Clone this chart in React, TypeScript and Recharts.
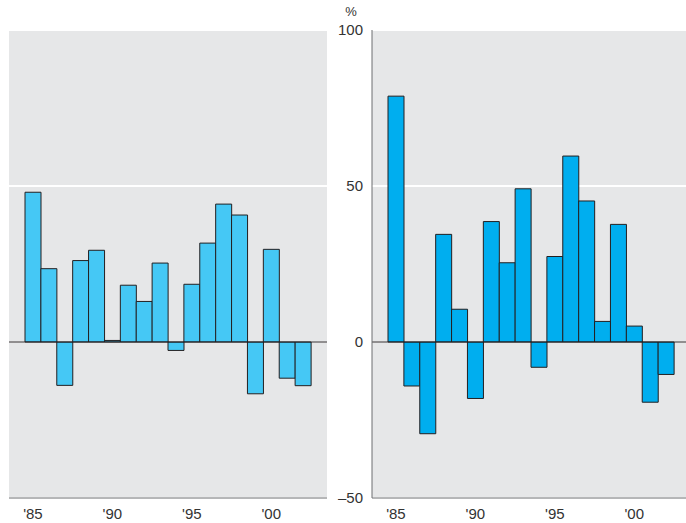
import React from 'react';
import {
  BarChart,
  Bar,
  XAxis,
  YAxis,
  CartesianGrid,
  ReferenceLine,
} from 'recharts';

// years shown on both panels
const years = [1985, 1986, 1987, 1988, 1989, 1990, 1991, 1992, 1993, 1994, 1995, 1996, 1997, 1998, 1999, 2000, 2001, 2002];

// values, in %
const leftValues = [48, 23.5, -13.9, 26.1, 29.4, 0.5, 18.2, 13, 25.3, -2.7, 18.5, 31.7, 44.2, 40.7, -16.6, 29.7, -11.6, -14];
const rightValues = [78.8, -14.1, -29.4, 34.5, 10.5, -18.1, 38.6, 25.4, 49.1, -8.1, 27.4, 59.6, 45.2, 6.6, 37.7, 5.1, -19.3, -10.4];

const yTicks = [-50, 0, 50, 100];
const labeledYears = [1985, 1990, 1995, 2000];

const FONT = '"Liberation Sans", Arial, sans-serif';
const TEXT = '#333333';
const BORDER = '#6d6e71';
const PANEL = '#e6e7e8';

const leftData = years.map((year, i) => ({ year, value: leftValues[i] }));
const rightData = years.map((year, i) => ({ year, value: rightValues[i] }));

const yearLabel = (y: number) =>
  labeledYears.includes(y) ? `'${String(y).slice(2)}` : '';

const yLabel = (v: number) => (v < 0 ? `\u2013${Math.abs(v)}` : String(v));

const App: React.FC = () => {
  return (
    <div
      style={{
        position: 'absolute',
        left: 0,
        top: 0,
        width: 686,
        height: 523,
        background: '#fff',
        fontFamily: FONT,
        overflow: 'hidden',
      }}
    >
      {/* left panel */}
      <div style={{ position: 'absolute', left: 0, top: 0 }}>
        <BarChart
          width={340}
          height={523}
          data={leftData}
          margin={{ top: 30, right: 13, left: 9, bottom: 0 }}
          barCategoryGap={0}
        >
          <CartesianGrid
            xAxisId="b"
            yAxisId="l"
            vertical={false}
            stroke="#ffffff"
            strokeWidth={2}
            fill={PANEL}
          />
          <XAxis
            xAxisId="b"
            dataKey="year"
            interval={0}
            height={25}
            padding={{ left: 16, right: 16 }}
            tickFormatter={yearLabel}
            tickLine={false}
            tickSize={10}
            tickMargin={0}
            axisLine={{ stroke: BORDER }}
            tick={{ fontSize: 15, fill: TEXT, fontFamily: FONT }}
          />
          <XAxis xAxisId="t" orientation="top" dataKey="year" height={0} tick={false} tickLine={false} axisLine={{ stroke: BORDER }} />
          <YAxis
            yAxisId="l"
            width={0}
            domain={[-50, 100]}
            ticks={yTicks}
            interval={0}
            allowDataOverflow
            tickFormatter={() => ''}
            tickLine={false}
            axisLine={{ stroke: BORDER }}
          />
          <YAxis yAxisId="r" orientation="right" width={0} domain={[-50, 100]} ticks={yTicks} tick={false} tickLine={false} axisLine={{ stroke: BORDER }} />
          <Bar
            xAxisId="b"
            yAxisId="l"
            dataKey="value"
            fill="#45c8f5"
            stroke="#231f20"
            strokeWidth={1}
            isAnimationActive={false}
          />
          <ReferenceLine xAxisId="b" yAxisId="l" y={0} stroke="#231f20" strokeWidth={1} />
        </BarChart>
      </div>

      {/* right panel with the shared scale */}
      <div style={{ position: 'absolute', left: 330, top: 0 }}>
        <BarChart
          width={356}
          height={523}
          data={rightData}
          margin={{ top: 30, right: 0, left: 0, bottom: 0 }}
          barCategoryGap={0}
        >
          <CartesianGrid
            xAxisId="b"
            yAxisId="l"
            vertical={false}
            stroke="#ffffff"
            strokeWidth={2}
            fill={PANEL}
          />
          <XAxis
            xAxisId="b"
            dataKey="year"
            interval={0}
            height={25}
            padding={{ left: 16, right: 12 }}
            tickFormatter={yearLabel}
            tickLine={false}
            tickSize={10}
            tickMargin={0}
            axisLine={{ stroke: BORDER }}
            tick={{ fontSize: 15, fill: TEXT, fontFamily: FONT }}
          />
          <XAxis xAxisId="t" orientation="top" dataKey="year" height={0} tick={false} tickLine={false} axisLine={{ stroke: BORDER }} />
          <YAxis
            yAxisId="l"
            width={42}
            domain={[-50, 100]}
            ticks={yTicks}
            allowDataOverflow
            interval={0}
            tickFormatter={yLabel}
            tickLine={false}
            tickSize={0}
            tickMargin={9}
            axisLine={{ stroke: BORDER }}
            tick={{ fontSize: 15, fill: TEXT, fontFamily: FONT }}
            label={{ value: '%', position: 'top', offset: 14, fontSize: 13, fill: TEXT, fontFamily: FONT }}
          />
          <Bar
            xAxisId="b"
            yAxisId="l"
            dataKey="value"
            fill="#00aeef"
            stroke="#231f20"
            strokeWidth={1}
            isAnimationActive={false}
          />
          <ReferenceLine xAxisId="b" yAxisId="l" y={0} stroke="#231f20" strokeWidth={1} />
        </BarChart>
      </div>
    </div>
  );
};

export default App;
